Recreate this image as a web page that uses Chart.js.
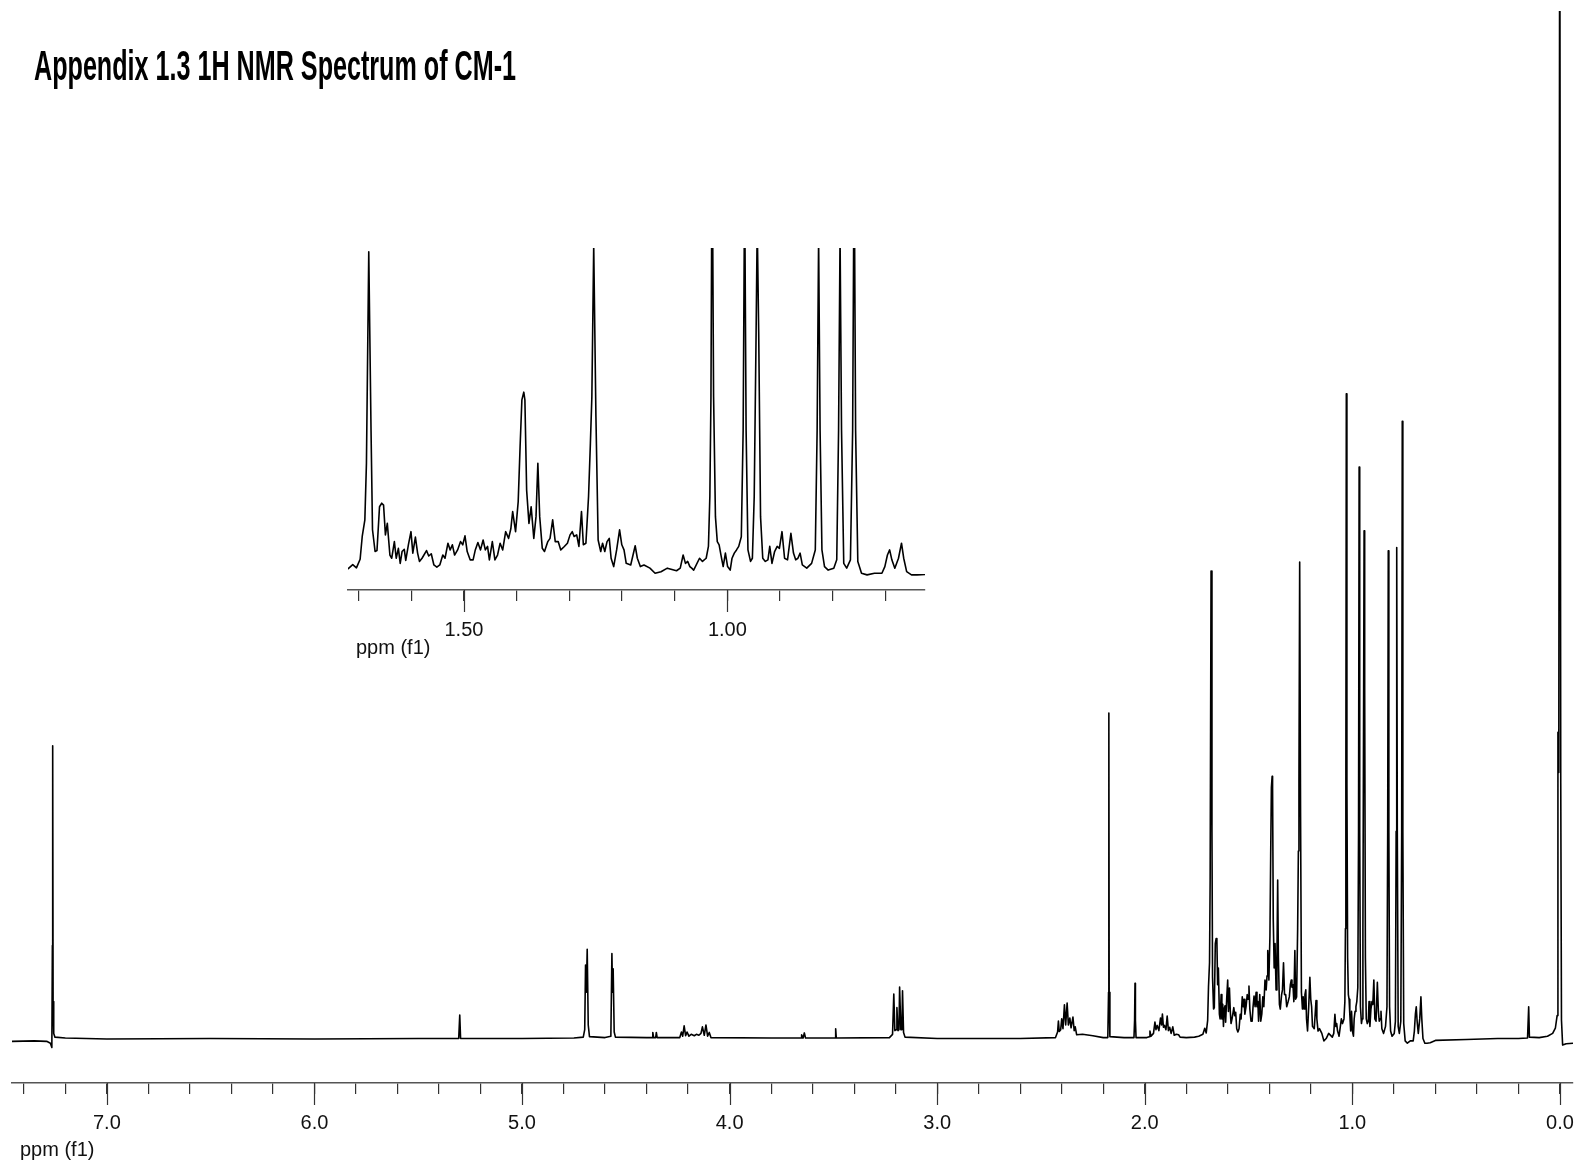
<!DOCTYPE html>
<html>
<head>
<meta charset="utf-8">
<title>Appendix 1.3 1H NMR Spectrum of CM-1</title>
<script src="https://cdn.jsdelivr.net/npm/chart.js@4.4.1/dist/chart.umd.min.js"></script>
<style>
    body { margin: 0; background: #fff; }
    #contenedor { position: relative; width: 1585px; height: 1164px; }
    #espectro { position: absolute; left: 0; top: 0; }
    #ampliacion { position: absolute; left: 330px; top: 230px; }
</style>
</head>
<body>
<div id="contenedor">
    <canvas id="espectro" width="1585" height="1164"></canvas>
    <canvas id="ampliacion" width="620" height="440"></canvas>
</div>
<script>
const titulo = 'Appendix 1.3 1H NMR Spectrum of CM-1';
const tituloEje = 'ppm (f1)';

// desplazamiento químico (ppm), de izquierda a derecha
const ppm = [
    // 7.4 - 1.75
    7.457, 7.35, 7.29, 7.272, 7.265, 7.2625, 7.261, 7.259, 7.256, 7.25, 7.20, 7.00, 6.50, 6.00, 5.50,
    5.305, 5.300, 5.296, 5.00, 4.75, 4.705, 4.698, 4.694, 4.690, 4.686, 4.681, 4.675, 4.60,
    4.572, 4.567, 4.564, 4.561, 4.556, 4.55, 4.40, 4.372, 4.370, 4.366, 4.356, 4.353, 4.349,
    4.24, 4.232, 4.226, 4.219, 4.212, 4.205, 4.196, 4.185, 4.17, 4.16, 4.148, 4.138, 4.131, 4.122,
    4.114, 4.106, 4.098, 4.09, 3.80, 3.66, 3.655, 3.653, 3.646, 3.640, 3.634, 3.50, 3.492, 3.489, 3.486,
    3.23, 3.215, 3.209, 3.204, 3.197, 3.194, 3.189, 3.184, 3.181, 3.175, 3.170, 3.167, 3.162, 3.155,
    3.00, 2.60, 2.43, 2.42, 2.416, 2.412, 2.405, 2.400, 2.394, 2.387, 2.381, 2.374, 2.368, 2.361,
    2.355, 2.346, 2.340, 2.335, 2.328, 2.30, 2.25, 2.20, 2.178, 2.1745, 2.173, 2.1715, 2.168, 2.10,
    2.052, 2.049, 2.047, 2.045, 2.042, 1.99, 1.978, 1.975, 1.97, 1.958, 1.951, 1.946, 1.940, 1.932,
    1.924, 1.919, 1.915, 1.910, 1.905, 1.898, 1.892, 1.886, 1.880, 1.873, 1.865, 1.858, 1.848, 1.837,
    1.830, 1.80, 1.76, 1.74, 1.73,
    // 1.72 - 0.62 (zona ampliada)
    1.720, 1.711, 1.704, 1.697, 1.693, 1.688, 1.685, 1.6806, 1.6763, 1.6735, 1.6686, 1.6650, 1.6602,
    1.656, 1.6525, 1.649, 1.6454, 1.6405, 1.637, 1.632, 1.6285, 1.6244, 1.6209, 1.6174, 1.6132,
    1.6104, 1.6054, 1.6005, 1.5970, 1.5921, 1.5879, 1.5844, 1.5795, 1.571, 1.5668, 1.562, 1.557,
    1.5514, 1.5458, 1.5401, 1.5359, 1.5303, 1.5261, 1.5219, 1.5177, 1.512, 1.5064, 1.5022, 1.498,
    1.4938, 1.4882, 1.4826, 1.4784, 1.4735, 1.4685, 1.4636, 1.4594, 1.4552, 1.4517, 1.4461, 1.4412,
    1.4362, 1.4313, 1.4264, 1.4208, 1.4152, 1.4110, 1.4075, 1.402, 1.397, 1.3934, 1.390, 1.3864,
    1.3843, 1.381, 1.3766, 1.3724, 1.3674, 1.3632, 1.3597, 1.3562, 1.3513, 1.3471, 1.3408, 1.3366,
    1.3316, 1.3267, 1.3211, 1.3162, 1.3099, 1.3036, 1.2986, 1.2944, 1.2909, 1.286, 1.2818, 1.2769,
    1.2734, 1.2685, 1.2635, 1.260, 1.2572, 1.2537, 1.2495, 1.2453, 1.2404, 1.2369, 1.2327, 1.2284,
    1.2242, 1.2207, 1.2158, 1.2102, 1.2046, 1.2004, 1.1962, 1.192, 1.1835, 1.175, 1.1709, 1.1652,
    1.1583, 1.147, 1.1372, 1.126, 1.114, 1.0965, 1.0895, 1.084, 1.0796, 1.0754, 1.0712, 1.0677,
    1.064, 1.0529, 1.0473, 1.0403, 1.036, 1.0333, 1.0312, 1.029, 1.0262, 1.0227, 1.0192, 1.0157,
    1.0122, 1.008, 1.0038, 0.9996, 0.9947, 0.9912, 0.9869, 0.9827, 0.9785, 0.9736, 0.9701, 0.9673,
    0.9645, 0.961, 0.9561, 0.9526, 0.9491, 0.9455, 0.9434, 0.9406, 0.9371, 0.9329, 0.928, 0.9231,
    0.9196, 0.9154, 0.9104, 0.9055, 0.9013, 0.8964, 0.8915, 0.8859, 0.8795, 0.8746, 0.8704, 0.8662,
    0.862, 0.8578, 0.8494, 0.8402, 0.8332, 0.8297, 0.8269, 0.8241, 0.8206, 0.8157, 0.8087, 0.7981,
    0.7925, 0.789, 0.7862, 0.7834, 0.7792, 0.7736, 0.7665, 0.7623, 0.7595, 0.7567, 0.7525, 0.7455,
    0.735, 0.7209, 0.7068, 0.7012, 0.6963, 0.6921, 0.6879, 0.6823, 0.6753, 0.6696, 0.6654, 0.6598,
    0.6507, 0.640, 0.625,
    // 0.6 - TMS
    0.60, 0.45, 0.30, 0.20, 0.156, 0.1505, 0.147, 0.10, 0.06, 0.035, 0.022, 0.0135, 0.0096, 0.0055,
    0.0008, -0.004, -0.0075, -0.013, -0.03, -0.063
];

// intensidad relativa (pico 1.68 ppm = 100)
const intensidad = [
    -0.5, -0.4, -0.5, -0.9, -1.8, 20, 62.7, 8, 1.2, 0.4, 0.2, 0.0, 0.1, 0.0, 0.1,
    0.1, 5.1, 0.1, 0.1, 0.2, 0.4, 2, 15.8, 10, 19.2, 3, 0.5, 0.3,
    0.6, 18.3, 10, 15, 1.5, 0.4, 0.3, 0.3, 1.4, 0.3, 0.3, 1.4, 0.3,
    0.3, 1.5, 0.6, 2.8, 0.7, 1.5, 0.6, 1.0, 0.7, 1.0, 0.8, 1.2, 2.6, 0.8,
    3.0, 0.6, 1.4, 0.3, 0.2, 0.2, 0.2, 0.9, 0.2, 1.3, 0.2, 0.2, 0.2, 2.2, 0.2,
    0.3, 1.0, 9.6, 1.8, 2.0, 6.7, 1.8, 2.0, 11.1, 2.0, 2.0, 10.3, 1.4, 0.4,
    0.1, 0.1, 0.3, 1.5, 3.85, 1.6, 2.0, 4.3, 2.2, 7.3, 3.0, 7.7, 3.0, 4.5,
    2.4, 4.7, 1.8, 2.6, 0.9, 1.0, 0.7, 0.3, 0.3, 10, 69.7, 10, 0.5, 0.3,
    0.3, 4, 11.9, 4, 0.3, 0.3, 0.5, 1.7, 0.6, 1.2, 3.6, 2.0, 2.9, 1.8,
    4.5, 3.0, 5.35, 2.5, 2.9, 2.0, 4.9, 1.8, 2.5, 1.2, 2.6, 0.8, 1.0, 0.9,
    0.4, 0.3, 0.4, 0.6, 0.8,
    1.0, 2.3, 1.3, 4.0, 11.1, 16.3, 34, 100.1, 44.4, 13.2, 6.4, 6.7, 20.4,
    21.5, 20.9, 11.6, 15.2, 5.3, 4.3, 9.5, 4.3, 7.4, 2.7, 6.4, 7.1,
    3.6, 8.5, 12.6, 5.9, 10.9, 5.9, 3.3, 4.3, 6.7, 5.0, 5.7, 2.2,
    1.5, 2.2, 5.3, 4.3, 9.0, 6.9, 8.5, 5.3, 6.9, 9.5, 8.5, 11.3,
    6.4, 3.8, 3.8, 6.9, 9.2, 6.9, 10.0, 6.9, 8.0, 3.8, 9.5, 3.8,
    5.3, 9.0, 6.9, 12.6, 10.5, 13.5, 18.9, 12.6, 22, 39.2, 53.8, 56.2,
    53.8, 25.6, 15.2, 20.4, 10.5, 17.3, 34, 17.3, 7.4, 6.4, 9.5, 10.5,
    16.3, 9.5, 9.5, 6.9, 7.9, 9.0, 11.6, 12.6, 11.1, 11.6, 8.0, 18.9,
    8.5, 9.0, 23.6, 40.2, 54.8, 102, 48.6, 10.0, 6.4, 9.0, 6.4, 9.5,
    10.5, 4.3, 1.7, 6.9, 13.2, 8.5, 6.9, 2.7, 2.2, 8.2, 4.3, 1.7,
    2.2, 1.2, -0.4, 0.1, 1.2, 0.4, 1.2, 5.3, 2.7, 3.3, 1.7, 1.2,
    0.6, 4.3, 3.3, 4.3, 8.0, 23.6, 54.8, 138, 54.8, 17.3, 9.5, 8.5,
    5.3, 1.7, 5.9, 1.7, 0.6, 4.3, 5.9, 6.9, 8.0, 11.0, 44.4, 122.3,
    44.4, 6.9, 3.3, 4.3, 23.6, 75, 108.7, 75, 17.3, 4.3, 3.3, 3.8,
    8.0, 2.7, 6.4, 8.0, 7.4, 12.6, 4.3, 3.8, 12.1, 5.9, 3.8, 4.3,
    5.9, 2.2, 1.2, 2.7, 6.9, 44.4, 104.4, 44.4, 6.9, 1.7, 0.6, 1.2,
    3.8, 44.4, 105.1, 44.4, 2.7, 1.2, 3.8, 44.4, 132.1, 44.4, 3.3, -0.4,
    -0.9, -0.4, -0.4, 1.7, 5.3, 6.9, 3.8, 1.2, 4.3, 9.0, 4.3, 0.1,
    -0.9, -0.9, -0.8,
    -0.3, -0.1, 0.1, 0.1, 0.2, 6.9, 0.4, 0.3, 0.6, 1.2, 2.3, 5, 65.6, 57,
    260, 54.7, 4, -1.3, -1.0, -0.9
];

// marcas del eje
const etiquetasEspectro = [7, 6, 5, 4, 3, 2, 1, 0];
const etiquetasAmpliacion = [1.5, 1.0];

const puntos = ppm.map((p, i) => ({ x: p, y: intensidad[i] }));
const fuente = '"Liberation Sans", Arial, sans-serif';

// marcas largas en los valores con etiqueta + título del eje
const marcasMayores = {
    id: 'marcasMayores',
    afterDraw(chart, args, opts) {
        const { ctx, chartArea, scales: { x } } = chart;
        ctx.save();
        ctx.strokeStyle = '#333';
        ctx.lineWidth = 1.2;
        opts.valores.forEach(v => {
            const px = Math.round(x.getPixelForValue(v)) + 0.5;
            ctx.beginPath();
            ctx.moveTo(px, chartArea.bottom);
            ctx.lineTo(px, chartArea.bottom + 22);
            ctx.stroke();
        });
        ctx.fillStyle = '#111';
        ctx.font = '20px ' + fuente;
        ctx.textBaseline = 'middle';
        ctx.textAlign = 'left';
        ctx.fillText(tituloEje, chartArea.left + opts.dx, chartArea.bottom + opts.dy);
        if (opts.titulo) {
            // letra estrecha tipo "Agency FB"
            ctx.font = 'bold 42px "Liberation Sans Narrow", "Liberation Sans", Arial, sans-serif';
            ctx.textBaseline = 'alphabetic';
            const ancho = ctx.measureText(opts.titulo).width;
            ctx.translate(34, 80);
            ctx.scale(482 / ancho, 1);
            ctx.fillStyle = '#000';
            ctx.fillText(opts.titulo, 0, 0);
        }
        ctx.restore();
    }
};

function ejeX(min, max, paso, etiquetas, decimales, alto) {
    return {
        type: 'linear',
        reverse: true,
        min: min,
        max: max,
        afterFit: (s) => {
            // alto fijo y sin margen extra por las etiquetas
            s.height = alto;
            s.paddingLeft = 0;
            s.paddingRight = 0;
        },
        border: { color: '#555', width: 1.5 },
        grid: { drawOnChartArea: false, tickLength: 11, color: '#333', lineWidth: 1.2 },
        ticks: {
            stepSize: paso,
            includeBounds: false,
            autoSkip: false,
            maxRotation: 0,
            padding: 17,
            color: '#111',
            font: { family: fuente, size: 20 },
            callback: (v) => etiquetas.some(e => Math.abs(e - v) < 1e-6) ? Number(v).toFixed(decimales) : ''
        }
    };
}

function opcionesLinea() {
    return {
        data: puntos,
        borderColor: '#000',
        borderWidth: 1.6,
        borderJoinStyle: 'round',
        pointRadius: 0,
        tension: 0,
        clip: 0
    };
}

new Chart(document.getElementById('espectro'), {
    type: 'line',
    data: { datasets: [opcionesLinea()] },
    options: {
        responsive: false,
        devicePixelRatio: 1,
        animation: false,
        layout: { padding: { top: 11, left: 12, right: 12, bottom: 0 } },
        scales: {
            x: ejeX(-0.063, 7.457, 0.2, etiquetasEspectro, 1, 81),
            y: { display: false, min: -9.41, max: 219.85 }
        },
        plugins: {
            legend: { display: false },
            tooltip: { enabled: false },
            marcasMayores: { valores: etiquetasEspectro, dx: 8, dy: 67, titulo: titulo }
        }
    },
    plugins: [marcasMayores]
});

new Chart(document.getElementById('ampliacion'), {
    type: 'line',
    data: { datasets: [opcionesLinea()] },
    options: {
        responsive: false,
        devicePixelRatio: 1,
        animation: false,
        layout: { padding: { top: 18, left: 18, right: 25, bottom: 0 } },
        scales: {
            x: ejeX(0.625, 1.72, 0.1, etiquetasAmpliacion, 2, 80),
            y: { display: false, min: -5.625, max: 101.25 }
        },
        plugins: {
            legend: { display: false },
            tooltip: { enabled: false },
            marcasMayores: { valores: etiquetasAmpliacion, dx: 8, dy: 58 }
        }
    },
    plugins: [marcasMayores]
});
</script>
</body>
</html>
